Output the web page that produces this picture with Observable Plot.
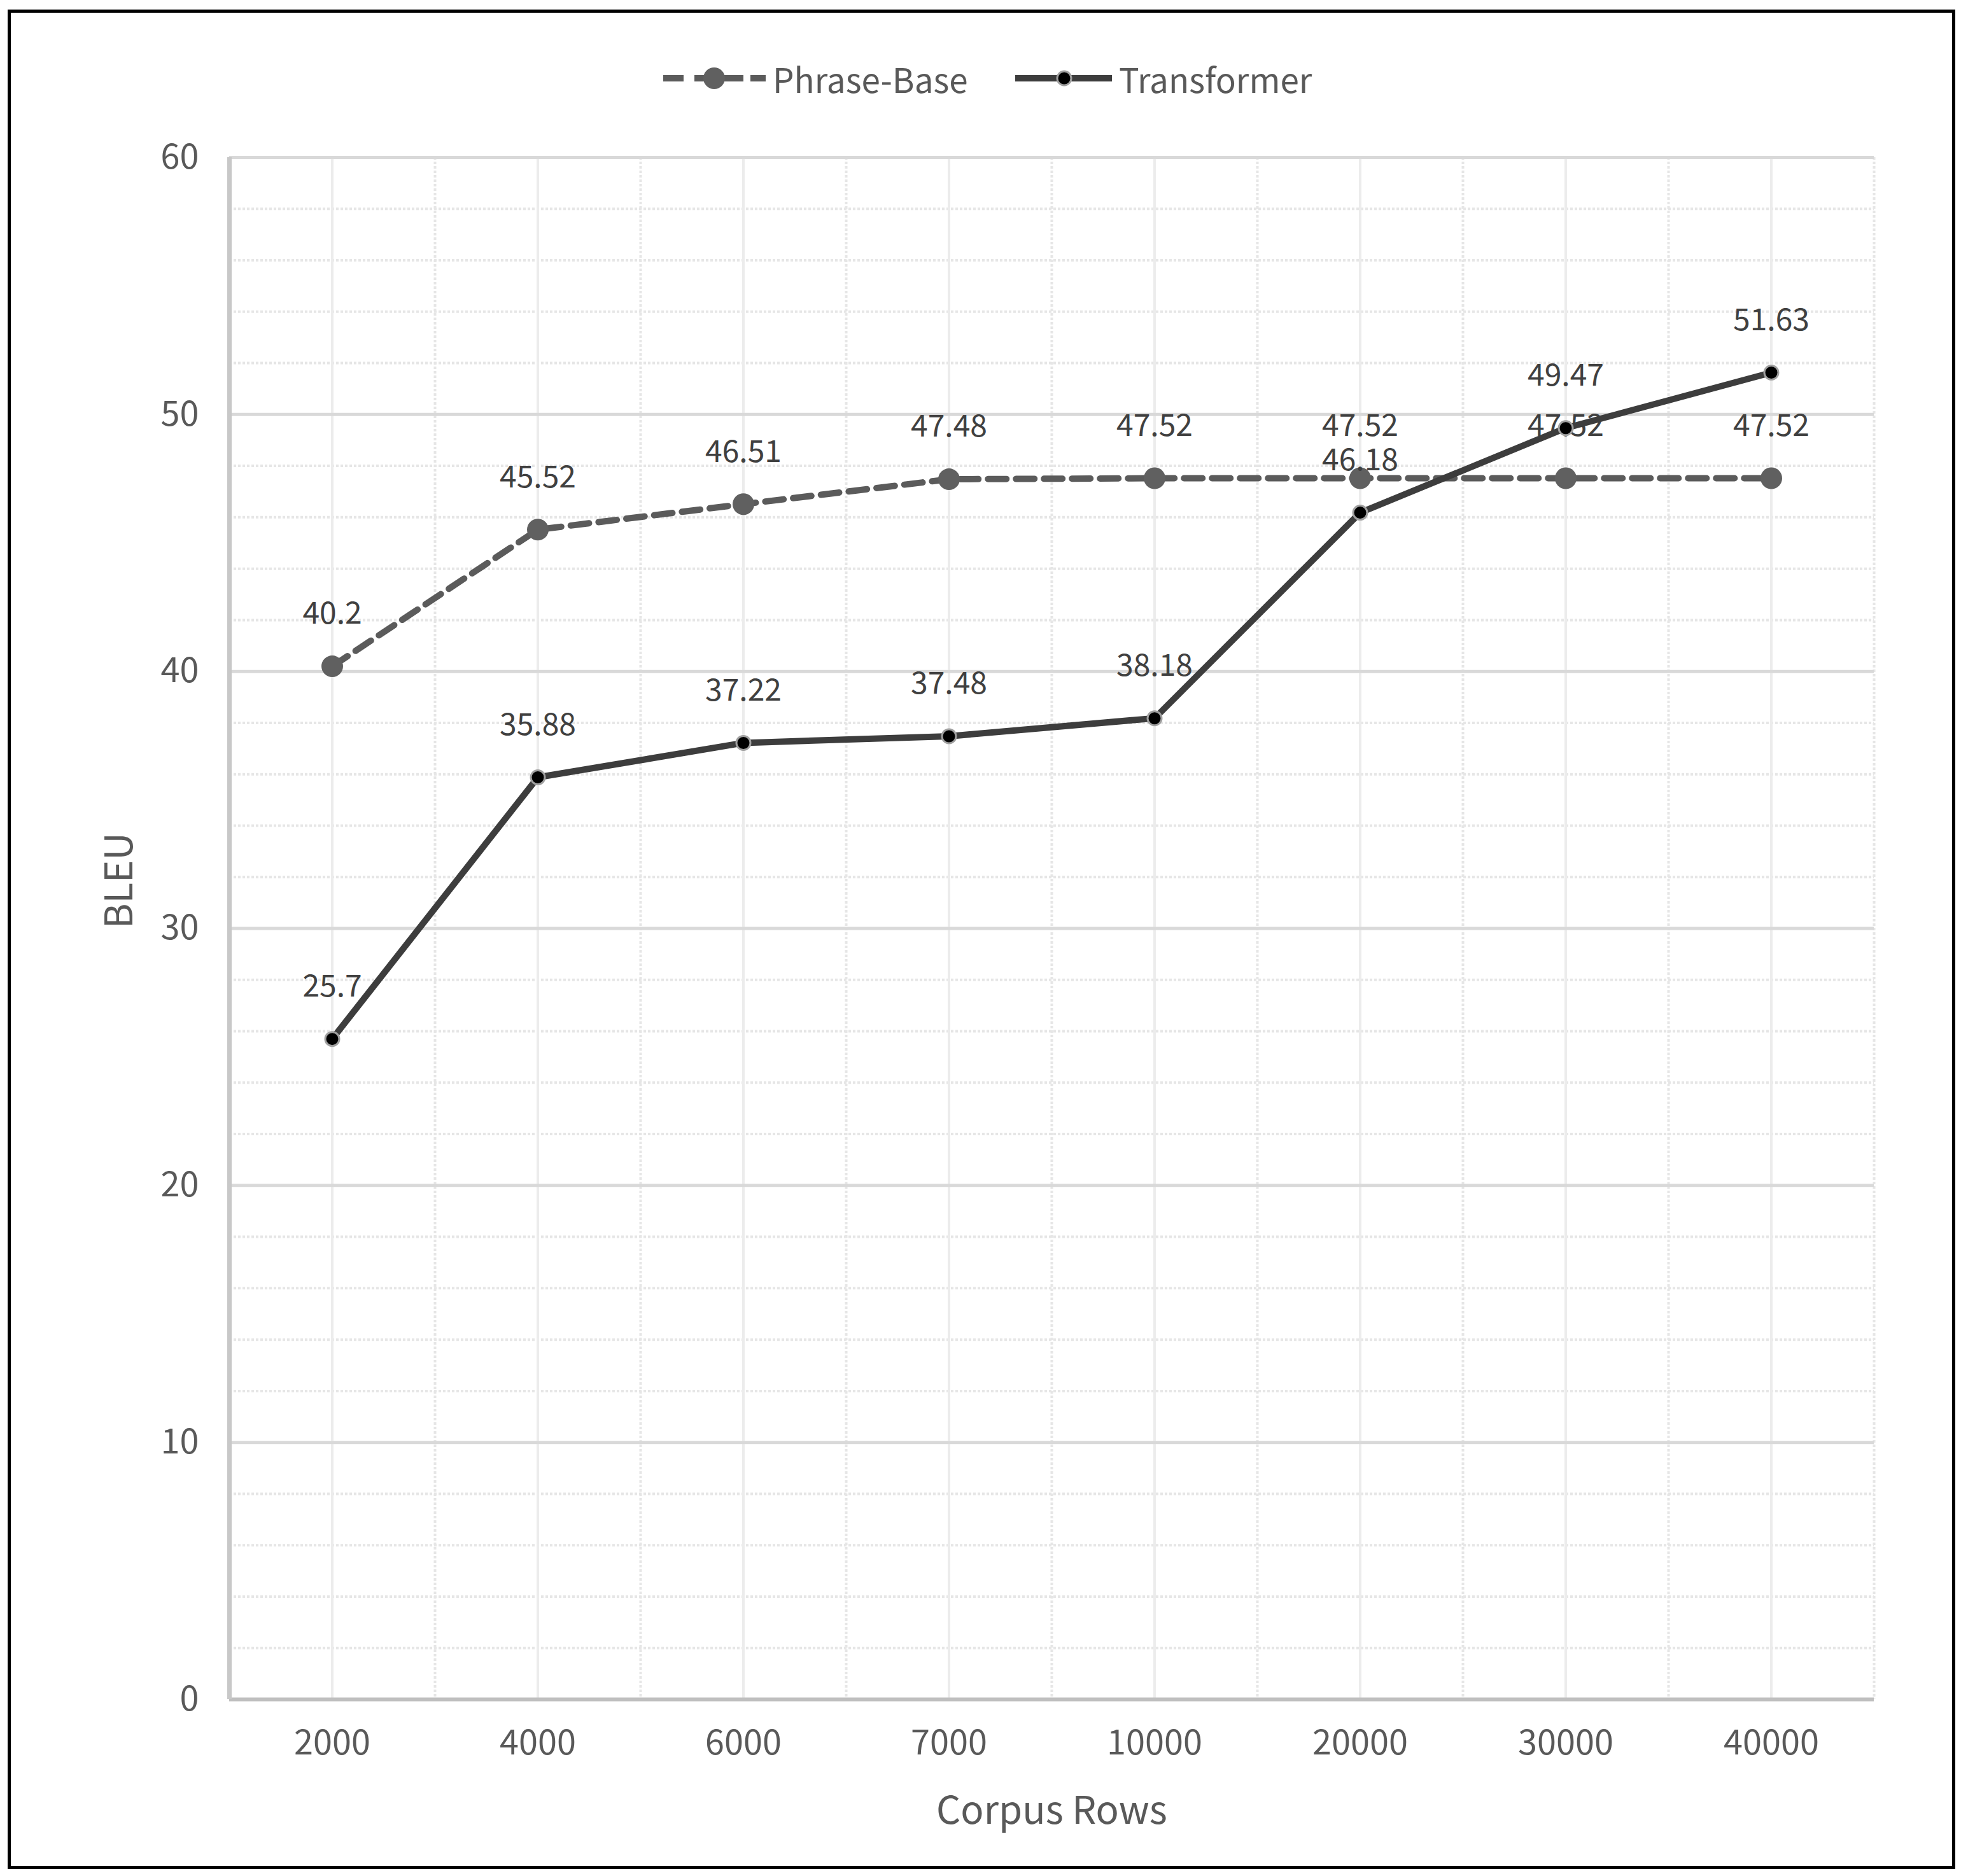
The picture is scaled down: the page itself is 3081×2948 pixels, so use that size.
<!DOCTYPE html>
<html>
<head>
<meta charset="utf-8">
<script src="https://cdn.jsdelivr.net/npm/d3@7"></script>
<script src="https://cdn.jsdelivr.net/npm/@observablehq/plot@0.6"></script>
<style>
  html, body { margin: 0; padding: 0; background: #fff; }
  #page { position: relative; width: 3081px; height: 2948px; background: #fff; overflow: hidden;
          font-family: "Noto Sans CJK KR", "Noto Sans", sans-serif; }
  #frame { position: absolute; left: 12px; top: 15px; width: 3060px; height: 2922px;
           border: 5px solid #000; box-sizing: border-box; pointer-events: none; }
  .lg { position: absolute; display: flex; align-items: center; }
  .lg span { font-size: 53px; color: #595959; line-height: 1; white-space: nowrap; }
  #chart { position: absolute; left: 0; top: 170px; }
</style>
</head>
<body>
<div id="page">
  <div id="legend"></div>
  <div id="chart"></div>
  <div id="frame"></div>
</div>
<script>
// ---- data ----
const categories = ["2000", "4000", "6000", "7000", "10000", "20000", "30000", "40000"];
const phraseBase = [40.2, 45.52, 46.51, 47.48, 47.52, 47.52, 47.52, 47.52];
const transformer = [25.7, 35.88, 37.22, 37.48, 38.18, 46.18, 49.47, 51.63];
const seriesNames = ["Phrase-Base", "Transformer"];
const yMajorTicks = [0, 10, 20, 30, 40, 50, 60];
const yMinorTicks = [2, 4, 6, 8, 12, 14, 16, 18, 22, 24, 26, 28, 32, 34, 36, 38, 42, 44, 46, 48, 52, 54, 56, 58];
const xTitle = "Corpus Rows";
const yTitle = "BLEU";

// ---- derived tables ----
const idx = categories.map((c, i) => i);
const bounds = idx.map(i => i + 0.5);
const pbRows = categories.map((c, i) => ({i, v: phraseBase[i]}));
const trRows = categories.map((c, i) => ({i, v: transformer[i]}));

const FONT = '"Noto Sans CJK KR", "Noto Sans", sans-serif';
const PB_LINE = "#5b5b5b", PB_DOT = "#606060";
const TR_LINE = "#3d3d3d", TR_DOT = "#000000", TR_HALO = "#a0a0a0";

const chart = Plot.plot({
  width: 3081,
  height: 2760,
  marginTop: 77,
  marginBottom: 260,
  marginLeft: 360,
  marginRight: 137,
  style: {fontFamily: FONT, fontSize: "54px", color: "#595959", background: "transparent"},
  x: {type: "linear", domain: [-0.5, idx.length - 0.5], ticks: idx, tickFormat: i => categories[i],
      tickSize: 0, tickPadding: 48, label: null},
  y: {type: "linear", domain: [0, 60], ticks: yMajorTicks, tickSize: 0, tickPadding: 48, label: null},
  marks: [
    Plot.ruleY(yMinorTicks, {stroke: "#e6e6e6", strokeWidth: 4, strokeDasharray: "4,3"}),
    Plot.ruleX(bounds, {stroke: "#e6e6e6", strokeWidth: 4, strokeDasharray: "4,3"}),
    Plot.ruleX(idx, {stroke: "#ececec", strokeWidth: 4}),
    Plot.ruleY(yMajorTicks.filter(v => v > 0), {stroke: "#d9d9d9", strokeWidth: 5}),
    Plot.ruleY([0], {stroke: "#bfbfbf", strokeWidth: 6}),
    Plot.ruleX([-0.5], {stroke: "#c8c8c8", strokeWidth: 7}),
    // Phrase-Base
    Plot.line(pbRows, {x: "i", y: "v", stroke: PB_LINE, strokeWidth: 10, strokeDasharray: "29,15"}),
    Plot.dot(pbRows, {x: "i", y: "v", r: 17, fill: PB_DOT, stroke: "none"}),
    Plot.text(pbRows, {x: "i", y: "v", text: d => String(d.v), dy: -82, fontSize: 48, fill: "#404040"}),
    // Transformer
    Plot.line(trRows, {x: "i", y: "v", stroke: TR_LINE, strokeWidth: 10}),
    Plot.dot(trRows, {x: "i", y: "v", r: 11, fill: TR_DOT, stroke: TR_HALO, strokeWidth: 3}),
    Plot.text(trRows, {x: "i", y: "v", text: d => String(d.v), dy: -82, fontSize: 48, fill: "#404040"}),
    // axis titles
    Plot.text([xTitle], {text: d => d, frameAnchor: "bottom", dy: 195, fontSize: 60, fill: "#595959"}),
    Plot.text([yTitle], {text: d => d, frameAnchor: "left", rotate: -90, dx: -172, fontSize: 60, fill: "#595959"})
  ]
});
document.getElementById("chart").appendChild(chart);

// ---- legend (HTML) ----
const legend = document.getElementById("legend");
function addItem(left, swatchW, name, svgInner) {
  const el = document.createElement("div");
  el.className = "lg";
  el.style.left = left + "px";
  el.style.top = (123 - 30) + "px";
  el.style.height = "60px";
  el.innerHTML = `<svg width="${swatchW}" height="60" style="display:block">${svgInner}</svg>` +
                 `<span style="margin-left:11px">${name}</span>`;
  legend.appendChild(el);
}
addItem(1042, 161, seriesNames[0],
  `<line x1="0" y1="30" x2="161" y2="30" stroke="${PB_LINE}" stroke-width="10" stroke-dasharray="32 17 77 11 24"/>` +
  `<circle cx="80" cy="30" r="17" fill="${PB_DOT}"/>`);
addItem(1595, 152, seriesNames[1],
  `<line x1="0" y1="30" x2="152" y2="30" stroke="${TR_LINE}" stroke-width="10"/>` +
  `<circle cx="77" cy="30" r="11" fill="${TR_DOT}" stroke="${TR_HALO}" stroke-width="3"/>`);
</script>
</body>
</html>
